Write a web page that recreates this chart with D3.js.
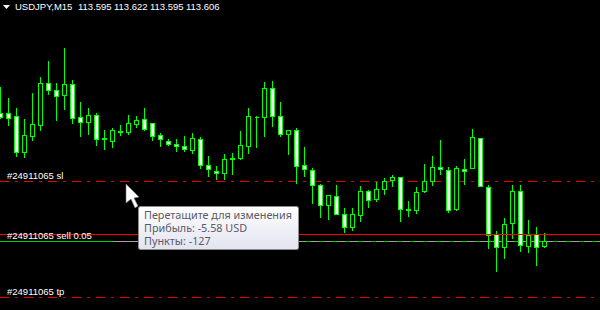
<!DOCTYPE html>
<html>
<head>
<meta charset="utf-8">
<script src="https://cdnjs.cloudflare.com/ajax/libs/d3/7.8.5/d3.min.js"></script>
<style>
html, body { margin: 0; padding: 0; background: #000; overflow: hidden; }
svg { display: block; }
.label { font-family: "Liberation Sans", sans-serif; font-size: 9.5px; fill: #fff; }
.tip { font-family: "Noto Sans", sans-serif; font-size: 10.8px; fill: #5a5a66; }
</style>
</head>
<body>
<svg id="chart" width="600" height="310"></svg>
<script>
var symbolTitle = 'USDJPY,M15';
var quoteTitle = ['113.595', '113.622', '113.595', '113.606'];

// prices, bar by bar
var opens = [113.863, 113.863, 113.857, 113.785, 113.817, 113.839, 113.923, 113.909, 113.899, 113.921,
    113.855, 113.845, 113.859, 113.813, 113.807, 113.827, 113.825, 113.841, 113.851, 113.843,
    113.819, 113.807, 113.801, 113.797, 113.789, 113.811, 113.759, 113.747, 113.743, 113.773,
    113.773, 113.797, 113.855, 113.855, 113.913, 113.857, 113.821, 113.829, 113.759, 113.749,
    113.719, 113.679, 113.697, 113.661, 113.635, 113.659, 113.707, 113.691, 113.711, 113.729,
    113.735, 113.671, 113.669, 113.707, 113.727, 113.755, 113.749, 113.671, 113.751, 113.753,
    113.813, 113.715, 113.621, 113.595, 113.643, 113.707, 113.597, 113.621, 113.597];
var closes = [113.855, 113.853, 113.785, 113.819, 113.841, 113.923, 113.909, 113.897, 113.921, 113.853,
    113.845, 113.859, 113.811, 113.811, 113.829, 113.825, 113.843, 113.849, 113.831, 113.817,
    113.811, 113.801, 113.797, 113.791, 113.813, 113.759, 113.751, 113.743, 113.771, 113.771,
    113.799, 113.857, 113.855, 113.913, 113.857, 113.821, 113.829, 113.757, 113.751, 113.719,
    113.679, 113.699, 113.661, 113.635, 113.661, 113.707, 113.689, 113.711, 113.727, 113.735,
    113.671, 113.669, 113.705, 113.727, 113.755, 113.751, 113.669, 113.753, 113.747, 113.815,
    113.717, 113.619, 113.595, 113.641, 113.707, 113.599, 113.619, 113.595, 113.607];
var highs = [113.915, 113.893, 113.873, 113.851, 113.903, 113.935, 113.967, 113.923, 113.993, 113.929,
    113.885, 113.873, 113.863, 113.829, 113.833, 113.839, 113.859, 113.857, 113.873, 113.843,
    113.823, 113.811, 113.811, 113.817, 113.823, 113.815, 113.777, 113.757, 113.781, 113.783,
    113.827, 113.873, 113.857, 113.925, 113.927, 113.885, 113.829, 113.833, 113.795, 113.753,
    113.721, 113.699, 113.719, 113.673, 113.673, 113.717, 113.709, 113.725, 113.733, 113.739,
    113.735, 113.687, 113.715, 113.761, 113.777, 113.809, 113.755, 113.757, 113.771, 113.831,
    113.813, 113.719, 113.627, 113.653, 113.719, 113.719, 113.649, 113.635, 113.623];
var lows = [113.853, 113.839, 113.777, 113.775, 113.809, 113.829, 113.901, 113.849, 113.871, 113.843,
    113.817, 113.821, 113.799, 113.791, 113.795, 113.819, 113.821, 113.835, 113.829, 113.809,
    113.797, 113.799, 113.787, 113.787, 113.783, 113.753, 113.737, 113.731, 113.731, 113.741,
    113.771, 113.783, 113.795, 113.817, 113.837, 113.817, 113.781, 113.723, 113.737, 113.683,
    113.655, 113.651, 113.661, 113.625, 113.629, 113.647, 113.675, 113.687, 113.701, 113.717,
    113.647, 113.657, 113.663, 113.705, 113.719, 113.741, 113.665, 113.669, 113.721, 113.753,
    113.717, 113.593, 113.547, 113.573, 113.613, 113.587, 113.585, 113.559, 113.595];

// order levels
var stopLevel = 113.727, sellLevel = 113.621, bidLevel = 113.607, takeLevel = 113.495;
var orderId = '#24911065';
var tipLines = ['Перетащите для изменения', 'Прибыль: -5.58 USD', 'Пункты: -127'];

var width = 600, height = 310;
var svg = d3.select('#chart');

var bars = d3.range(opens.length).map(function(i) {
    return {i: i, open: opens[i], close: closes[i], high: highs[i], low: lows[i]};
});

var xScale = d3.scaleLinear().domain([0, 68]).range([0.5, 544.5]);
var yScale = d3.scaleLinear().domain([113.469, 114.089]).range([310, 0]);

// middle of the pixel row a price falls on
function snap(price) {
    return Math.round(yScale(price)) + 0.5;
}

svg.append('rect').attr('width', width).attr('height', height).attr('fill', '#000');

// bid line sits under the candles, green with the gray one over it
svg.append('line').attr('x1', 0).attr('x2', width)
    .attr('y1', snap(bidLevel)).attr('y2', snap(bidLevel))
    .attr('stroke', '#00d000').attr('shape-rendering', 'crispEdges');
svg.append('line').attr('x1', 113).attr('x2', 298)
    .attr('y1', snap(bidLevel)).attr('y2', snap(bidLevel))
    .attr('stroke', '#a0a0a0').attr('shape-rendering', 'crispEdges');
svg.append('line').attr('x1', 298).attr('x2', width)
    .attr('y1', snap(bidLevel)).attr('y2', snap(bidLevel))
    .attr('stroke', '#a0a0a0').attr('stroke-dasharray', '8 5')
    .attr('shape-rendering', 'crispEdges');

// stop and take profit
[stopLevel, takeLevel].forEach(function(level) {
    svg.append('line').attr('x1', 0).attr('x2', width)
        .attr('y1', snap(level)).attr('y2', snap(level))
        .attr('stroke', '#e60000').attr('stroke-dasharray', '9 6 3 6')
        .attr('shape-rendering', 'crispEdges');
});

var series = svg.append('g').attr('shape-rendering', 'crispEdges');

var candle = series.selectAll('g.candle')
    .data(bars)
    .enter().append('g')
    .attr('class', 'candle');

candle.append('line')
    .attr('x1', function(d) { return xScale(d.i); })
    .attr('x2', function(d) { return xScale(d.i); })
    .attr('y1', function(d) { return snap(d.high) - 0.5; })
    .attr('y2', function(d) { return snap(d.low) + 0.5; })
    .attr('stroke', '#00ff00');

// path and not rect, a flat body still has to show
candle.append('path')
    .attr('d', function(d) {
        var top = snap(Math.max(d.open, d.close)),
            bottom = snap(Math.min(d.open, d.close)),
            p = d3.path();
        p.rect(xScale(d.i) - 2, top, 4, bottom - top);
        return p.toString();
    })
    .attr('fill', function(d) { return d.close > d.open ? '#000' : '#fff'; })
    .attr('stroke', '#00ff00');

svg.append('line').attr('x1', 0).attr('x2', width)
    .attr('y1', snap(sellLevel)).attr('y2', snap(sellLevel))
    .attr('stroke', '#ff0000').attr('shape-rendering', 'crispEdges');

// order labels
svg.selectAll('text.label')
    .data([
        {text: orderId + ' sl', level: stopLevel, dy: -2},
        {text: orderId + ' sell 0.05', level: sellLevel, dy: 5},
        {text: orderId + ' tp', level: takeLevel, dy: -2}
    ])
    .enter().append('text')
    .attr('class', 'label')
    .attr('x', 7)
    .attr('y', function(d) { return yScale(d.level) + d.dy; })
    .text(function(d) { return d.text; });

// title
svg.append('path').attr('d', 'M3,5 L10,5 L6.5,9 Z').attr('fill', '#fff');
svg.append('text').attr('class', 'label').attr('x', 15).attr('y', 10)
    .text(symbolTitle);
svg.selectAll('text.quote')
    .data(quoteTitle)
    .enter().append('text')
    .attr('class', 'label quote')
    .attr('x', function(d, i) { return 78 + i * 36; })
    .attr('y', 10)
    .text(function(d) { return d; });

// tooltip
var grad = svg.append('defs').append('linearGradient')
    .attr('id', 'tipFill').attr('x1', 0).attr('x2', 0).attr('y1', 0).attr('y2', 1);
grad.append('stop').attr('offset', 0).attr('stop-color', '#ffffff');
grad.append('stop').attr('offset', 1).attr('stop-color', '#e2e3ef');

svg.append('rect')
    .attr('x', 138.5).attr('y', 206.5).attr('width', 160).attr('height', 43)
    .attr('rx', 2).attr('fill', 'url(#tipFill)').attr('stroke', '#8c8c8c');

svg.selectAll('text.tip')
    .data(tipLines)
    .enter().append('text')
    .attr('class', 'tip')
    .attr('x', 144)
    .attr('y', function(d, i) { return 219 + i * 13; })
    .text(function(d) { return d; });

// mouse pointer
svg.append('path')
    .attr('d', 'M126,184 L126,203 L131,199 L135,208 L138,206 L134,198 L139,197 Z')
    .attr('fill', '#fff').attr('stroke', '#777').attr('stroke-width', 0.6);
</script>
</body>
</html>
